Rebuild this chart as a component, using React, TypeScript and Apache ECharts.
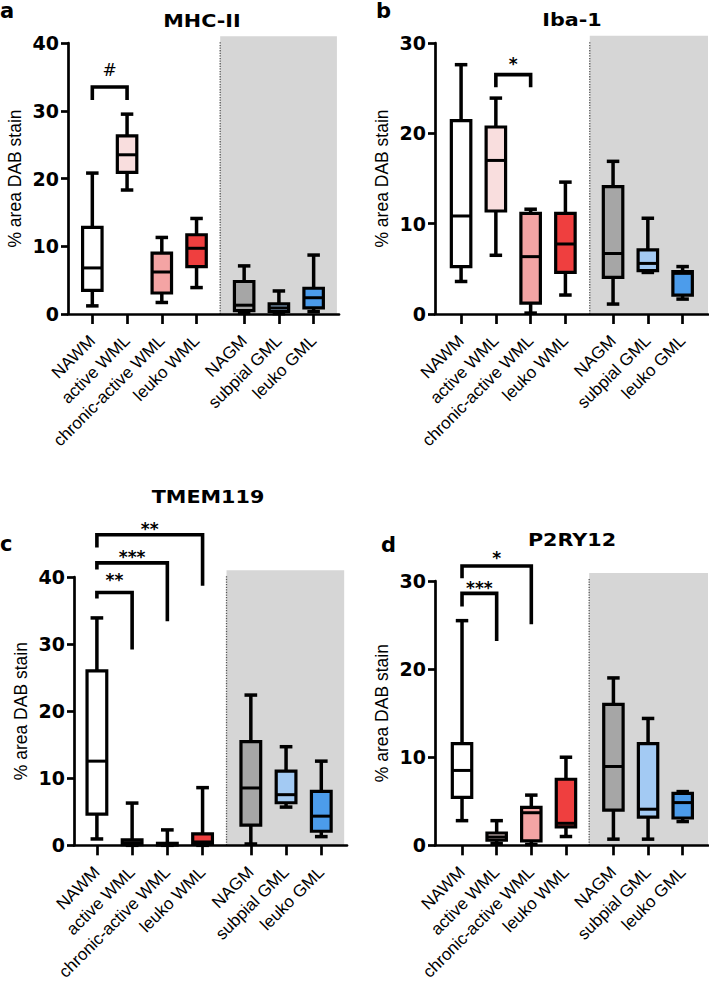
import React, { useEffect, useRef } from 'react';
import * as echarts from 'echarts';

// ---------- data ----------
const categories = ['NAWM', 'active WML', 'chronic-active WML', 'leuko WML', 'NAGM', 'subpial GML', 'leuko GML'];
const positions = [0, 1, 2, 3, 4.37, 5.37, 6.37];
const boxColors = ['#FFFFFF', '#F9DEDE', '#F4A4A4', '#EF3F3F', '#A6A6A6', '#A3CAF3', '#4C9CEB'];

// [min, Q1, median, Q3, max] per category
const mhc2Stats = [
  [1.2, 3.5, 6.8, 12.8, 20.8],
  [18.3, 20.9, 23.5, 26.3, 29.5],
  [1.7, 3.1, 6.2, 9.0, 11.3],
  [3.9, 7.0, 9.7, 11.7, 14.1],
  [0.1, 0.5, 1.3, 4.8, 7.1],
  [0.05, 0.4, 0.9, 1.5, 3.4],
  [0.35, 0.9, 2.4, 3.8, 8.7],
];
const iba1Stats = [
  [3.6, 5.25, 10.85, 21.4, 27.6],
  [6.5, 11.4, 17.0, 20.7, 23.9],
  [0.1, 1.2, 6.35, 11.15, 11.6],
  [2.1, 4.6, 7.75, 11.15, 14.6],
  [1.1, 4.05, 6.7, 14.1, 16.9],
  [4.6, 4.8, 5.6, 7.1, 10.6],
  [1.65, 2.1, 4.5, 4.7, 5.25],
];
const tmem119Stats = [
  [0.95, 4.65, 12.55, 26.0, 33.9],
  [0, 0.1, 0.4, 0.8, 6.3],
  [0, 0.05, 0.15, 0.3, 2.3],
  [0, 0.3, 0.5, 1.7, 8.6],
  [0.2, 3.0, 8.55, 15.45, 22.4],
  [5.7, 6.35, 7.55, 11.05, 14.7],
  [1.3, 2.1, 4.35, 8.05, 12.55],
];
const p2ry12Stats = [
  [2.8, 5.45, 8.5, 11.55, 25.5],
  [0.2, 0.6, 0.95, 1.4, 2.8],
  [0.1, 0.5, 3.7, 4.3, 5.7],
  [1.0, 2.1, 2.5, 7.5, 10.0],
  [0.7, 4.0, 8.95, 16.0, 19.0],
  [0.7, 3.2, 4.1, 11.55, 14.4],
  [2.7, 3.1, 4.85, 5.9, 6.1],
];

// significance brackets: [fromCategory, toCategory, barValue, leftEndValue, rightEndValue, labelValue]
const mhc2Sig = [[0, 1, 33.5, 31.6, 31.6, 36.0]];
const mhc2SigLabels = ['#'];
const iba1Sig = [[1, 2, 26.5, 25.1, 25.1, 28.0]];
const iba1SigLabels = ['*'];
const tmem119Sig = [
  [0, 1, 37.7, 36.8, 29.2, 40.0],
  [0, 2, 42.1, 41.1, 33.4, 43.5],
  [0, 3, 46.3, 44.4, 38.7, 47.6],
];
const tmem119SigLabels = ['**', '***', '**'];
const p2ry12Sig = [
  [0, 1, 28.6, 27.1, 23.2, 29.5],
  [0, 2, 31.7, 30.3, 25.1, 33.0],
];
const p2ry12SigLabels = ['***', '*'];

// y-axis ranges and ticks
const yMaxes = [40, 30, 40, 30];
const yIntervals = [10, 10, 10, 10];
const titles = ['MHC-II', 'Iba-1', 'TMEM119', 'P2RY12'];
const letters = ['a', 'b', 'c', 'd'];
const yAxisName = '% area DAB stain';

// ---------- layout ----------
const SANS = 'Liberation Sans, Arial, Helvetica, sans-serif';
const WIDE = 'DejaVu Sans, Liberation Sans, sans-serif';
const grids = [
  { left: 68, top: 43, width: 271, height: 271 },
  { left: 435, top: 43, width: 273, height: 271 },
  { left: 74, top: 577, width: 273, height: 270 },
  { left: 435, top: 581, width: 273, height: 271 },
];
const xRanges = [
  [-0.7, 7.1],
  [-0.75, 7.1],
  [-0.65, 7.1],
  [-0.78, 7.1],
];
// shaded grey-matter region [xStart, xEnd, top]
const shadeRegions = [
  [3.68, 7.04, 41],
  [3.7, 7.1, 30.8],
  [3.68, 7.02, 41],
  [3.67, 7.1, 30.9],
];
const titlePos = [
  [202, 21],
  [572, 19.5],
  [208, 496.5],
  [572, 540],
];
const letterPos = [
  [0, 0],
  [376, 0],
  [0, 533],
  [381, 534],
];

const panelStats = [mhc2Stats, iba1Stats, tmem119Stats, p2ry12Stats];
const panelSig = [mhc2Sig, iba1Sig, tmem119Sig, p2ry12Sig];
const panelSigLabels = [mhc2SigLabels, iba1SigLabels, tmem119SigLabels, p2ry12SigLabels];

const findCat = (v: number) => {
  const i = positions.findIndex((p) => Math.abs(p - v) < 1e-6);
  return i >= 0 ? categories[i] : '';
};

function boxRender(params: any, api: any) {
  const x = api.value(0);
  const mn = api.value(1);
  const q1 = api.value(2);
  const md = api.value(3);
  const q3 = api.value(4);
  const mx = api.value(5);
  const ci = api.value(6);
  const unit = api.size([1, 0])[0];
  const bw = unit * 0.56;
  const cw = unit * 0.36;
  const pMin = api.coord([x, mn]);
  const pQ1 = api.coord([x, q1]);
  const pMd = api.coord([x, md]);
  const pQ3 = api.coord([x, q3]);
  const pMax = api.coord([x, mx]);
  const cx = pMin[0];
  const ls = { stroke: '#000', lineWidth: 3.5, lineCap: 'butt' };
  return {
    type: 'group',
    children: [
      { type: 'line', shape: { x1: cx, y1: pMax[1], x2: cx, y2: pQ3[1] }, style: ls },
      { type: 'line', shape: { x1: cx, y1: pQ1[1], x2: cx, y2: pMin[1] }, style: ls },
      { type: 'line', shape: { x1: cx - cw / 2, y1: pMax[1], x2: cx + cw / 2, y2: pMax[1] }, style: ls },
      { type: 'line', shape: { x1: cx - cw / 2, y1: pMin[1], x2: cx + cw / 2, y2: pMin[1] }, style: ls },
      {
        type: 'rect',
        shape: { x: cx - bw / 2, y: pQ3[1], width: bw, height: pQ1[1] - pQ3[1] },
        style: { fill: boxColors[ci], stroke: '#000', lineWidth: 3.2 },
      },
      {
        type: 'line',
        shape: { x1: cx - bw / 2, y1: pMd[1], x2: cx + bw / 2, y2: pMd[1] },
        style: { stroke: '#000', lineWidth: 3 },
      },
    ],
  };
}

function shadeRender(params: any, api: any) {
  const x1 = api.value(0);
  const x2 = api.value(1);
  const top = api.value(2);
  const a = api.coord([x1, 0]);
  const b = api.coord([x2, top]);
  return {
    type: 'group',
    children: [
      {
        type: 'rect',
        shape: { x: a[0], y: b[1], width: b[0] - a[0], height: a[1] - b[1] },
        style: { fill: '#D6D6D6' },
      },
      {
        type: 'line',
        shape: { x1: a[0], y1: a[1], x2: a[0], y2: b[1] + 6 },
        style: { stroke: '#555', lineWidth: 1.3, lineDash: [1.3, 1.3] },
      },
    ],
  };
}

function makeSigRender(labels: string[]) {
  return function (params: any, api: any) {
    const c1 = api.value(0);
    const c2 = api.value(1);
    const bar = api.value(2);
    const le = api.value(3);
    const re = api.value(4);
    const lv = api.value(5);
    const x1 = positions[c1];
    const x2 = positions[c2];
    const pL = api.coord([x1, le]);
    const pBar = api.coord([x1, bar]);
    const pBar2 = api.coord([x2, bar]);
    const pR = api.coord([x2, re]);
    const pLab = api.coord([(x1 + x2) / 2, lv]);
    const lab = labels[params.dataIndex];
    const isHash = lab === '#';
    return {
      type: 'group',
      children: [
        {
          type: 'polyline',
          shape: { points: [[pL[0], pL[1]], [pBar[0], pBar[1]], [pBar2[0], pBar2[1]], [pR[0], pR[1]]] },
          style: { stroke: '#000', lineWidth: 3.6, fill: null, lineJoin: 'miter' },
        },
        {
          type: 'text',
          x: pLab[0],
          y: pLab[1] + (isHash ? 0 : 3),
          style: {
            text: lab,
            fill: '#000',
            fontSize: 17,
            fontWeight: isHash ? 'normal' : 'bold',
            fontFamily: WIDE,
            align: 'center',
            verticalAlign: 'middle',
          },
        },
      ],
    };
  };
}

export default function App() {
  const ref = useRef<HTMLDivElement>(null);
  useEffect(() => {
    if (!ref.current) return;
    const chart = echarts.init(ref.current, undefined, { renderer: 'svg' });

    const grid = grids.map((g) => ({ ...g, containLabel: false }));
    const xAxis = grids.map((_, i) => ({
      type: 'value',
      gridIndex: i,
      min: xRanges[i][0],
      max: xRanges[i][1],
      splitLine: { show: false },
      axisLine: { show: true, onZero: false, lineStyle: { color: '#000', width: 2.7 } },
      axisTick: { show: true, length: 10, customValues: positions, lineStyle: { color: '#000', width: 2.7 } },
      axisLabel: {
        show: true,
        customValues: positions,
        rotate: 45,
        margin: 24,
        formatter: (v: number) => findCat(v),
        fontSize: 17,
        fontFamily: SANS,
        color: '#000',
      },
    }));
    const yAxis = grids.map((_, i) => ({
      type: 'value',
      gridIndex: i,
      min: 0,
      max: yMaxes[i],
      interval: yIntervals[i],
      name: yAxisName,
      nameLocation: 'middle',
      nameGap: 44,
      nameTextStyle: { fontSize: 17.5, fontFamily: SANS, color: '#000' },
      splitLine: { show: false },
      axisLine: { show: true, onZero: false, lineStyle: { color: '#000', width: 2.7 } },
      axisTick: { show: true, length: 7, lineStyle: { color: '#000', width: 2.7 } },
      axisLabel: { fontSize: 19, fontWeight: 'bold', fontFamily: WIDE, color: '#000', margin: 9 },
    }));

    const series: any[] = [];
    grids.forEach((_, i) => {
      series.push({
        type: 'custom',
        name: 'shade' + i,
        xAxisIndex: i,
        yAxisIndex: i,
        z: -1,
        silent: true,
        renderItem: shadeRender,
        data: [shadeRegions[i]],
      });
      series.push({
        type: 'custom',
        name: titles[i],
        xAxisIndex: i,
        yAxisIndex: i,
        z: 3,
        renderItem: boxRender,
        encode: { x: 0, y: [1, 2, 3, 4, 5] },
        data: panelStats[i].map((s, k) => [positions[k], s[0], s[1], s[2], s[3], s[4], k]),
      });
      series.push({
        type: 'custom',
        name: 'sig' + i,
        xAxisIndex: i,
        yAxisIndex: i,
        z: 4,
        clip: false,
        renderItem: makeSigRender(panelSigLabels[i]),
        data: panelSig[i],
      });
    });

    const graphic: any[] = [];
    titles.forEach((t, i) => {
      graphic.push({
        type: 'text',
        x: titlePos[i][0],
        y: titlePos[i][1],
        scaleX: 1.15,
        style: {
          text: t,
          fontSize: 18,
          fontWeight: 'bold',
          fontFamily: WIDE,
          fill: '#000',
          align: 'center',
          verticalAlign: 'middle',
        },
      });
      graphic.push({
        type: 'text',
        x: letterPos[i][0],
        y: letterPos[i][1],
        style: {
          text: letters[i],
          fontSize: 21,
          fontWeight: 'bold',
          fontFamily: WIDE,
          fill: '#000',
          align: 'left',
          verticalAlign: 'top',
        },
      });
    });

    chart.setOption({
      animation: false,
      backgroundColor: '#FFFFFF',
      grid,
      xAxis,
      yAxis,
      series,
      graphic,
    });
    return () => chart.dispose();
  }, []);
  return (
    <div
      ref={ref}
      style={{ position: 'absolute', left: 0, top: 0, width: 709, height: 983, background: '#fff' }}
    />
  );
}
